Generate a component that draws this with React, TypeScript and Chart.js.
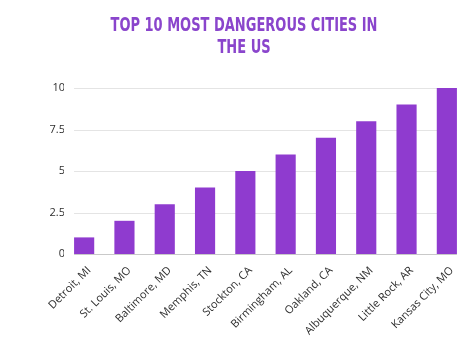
import React, { useEffect, useRef } from "react";
import { Chart, registerables } from "chart.js";

Chart.register(...registerables);

const categories = [
  "Detroit, MI",
  "St. Louis, MO",
  "Baltimore, MD",
  "Memphis, TN",
  "Stockton, CA",
  "Birmingham, AL",
  "Oakland, CA",
  "Albuquerque, NM",
  "Little Rock, AR",
  "Kansas City, MO",
];
const rankValues = [1, 2, 3, 4, 5, 6, 7, 8, 9, 10];
const yTicks = [0, 2.5, 5, 7.5, 10];
const titleLines = ["TOP 10 MOST DANGEROUS CITIES IN", "THE US"];

const PURPLE = "#8f3bcf";
const TITLE_COLOR = "#8a45cc";
const TEXT = "#2e2e2e";

const titlePlugin = {
  id: "condensedTitle",
  afterDraw(chart: any) {
    const ctx = chart.ctx;
    ctx.save();
    ctx.fillStyle = TITLE_COLOR;
    ctx.font = "bold 19px 'DejaVu Sans'";
    ctx.textBaseline = "alphabetic";
    ctx.textAlign = "center";
    const first = ctx.measureText(titleLines[0]).width;
    const sx = 267 / first;
    const cx = chart.width / 2 + 7;
    const baselines = [31, 52.5];
    titleLines.forEach((line, i) => {
      ctx.save();
      ctx.translate(cx, baselines[i]);
      ctx.scale(sx, 1);
      ctx.fillText(line, 0, 0);
      ctx.restore();
    });
    ctx.restore();
  },
};

const gridPlugin = {
  id: "insetGrid",
  beforeDatasetsDraw(chart: any) {
    const ctx = chart.ctx;
    const xs = chart.scales.x;
    const ys = chart.scales.y;
    const meta = chart.getDatasetMeta(0);
    const half = meta.data.length ? meta.data[0].width / 2 : 10;
    const x0 = xs.getPixelForValue(0) - half;
    const x1 = xs.getPixelForValue(categories.length - 1) + half;
    ctx.save();
    ys.ticks.forEach((t: any) => {
      const y = Math.round(ys.getPixelForValue(t.value)) + 0.5;
      ctx.strokeStyle = t.value === 0 ? "#c9c9c9" : "#e4e4e4";
      ctx.lineWidth = 1;
      ctx.beginPath();
      ctx.moveTo(x0, y);
      ctx.lineTo(x1, y);
      ctx.stroke();
    });
    ctx.restore();
  },
};

export default function App() {
  const ref = useRef<HTMLCanvasElement | null>(null);
  useEffect(() => {
    if (!ref.current) return;
    const chart = new Chart(ref.current, {
      type: "bar",
      data: {
        labels: categories,
        datasets: [
          {
            data: rankValues,
            backgroundColor: PURPLE,
            borderWidth: 0,
            barPercentage: 0.5,
            categoryPercentage: 1,
          },
        ],
      },
      options: {
        animation: false,
        responsive: false,
        devicePixelRatio: 1,
        layout: { padding: { top: 88, left: 8, right: 7, bottom: 0 } },
        plugins: {
          legend: { display: false },
          title: { display: false },
          tooltip: { enabled: false },
        },
        scales: {
          x: {
            grid: { display: false, drawTicks: false },
            border: { display: false },
            ticks: {
              autoSkip: false,
              minRotation: 45,
              maxRotation: 45,
              padding: 10,
              labelOffset: 5,
              color: TEXT,
              font: { family: "'Open Sans'", size: 11 },
            },
            afterFit(scale: any) {
              scale.height = 101;
            },
          },
          y: {
            min: 0,
            max: 10,
            afterBuildTicks(scale: any) {
              scale.ticks = yTicks.map((v) => ({ value: v }));
            },
            grid: { display: false, drawTicks: false },
            border: { display: false },
            ticks: {
              padding: -1,
              color: TEXT,
              font: { family: "'Open Sans'", size: 11 },
              callback: (v: any) => String(v),
            },
            afterFit(scale: any) {
              scale.width = 56;
            },
          },
        },
      },
      plugins: [gridPlugin, titlePlugin],
    });
    return () => chart.destroy();
  }, []);
  return (
    <div style={{ position: "fixed", left: 0, top: 0, width: 474, height: 355, background: "#fff" }}>
      <canvas ref={ref} width={474} height={355} style={{ display: "block" }} />
    </div>
  );
}
